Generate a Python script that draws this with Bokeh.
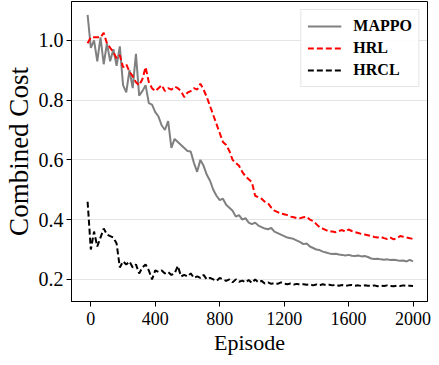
from bokeh.plotting import figure
from bokeh.models import Range1d, FixedTicker, NumeralTickFormatter
from bokeh.embed import file_html
from bokeh.resources import INLINE

episodes = list(range(-20, 2001, 20))

mappo = [1.085, 0.975, 1.00, 0.93, 1.01, 0.92, 0.99, 0.93, 0.97, 0.915,
         0.98, 0.85, 0.826, 0.90, 0.84, 0.955, 0.815, 0.83, 0.85, 0.79,
         0.785, 0.76, 0.745, 0.715, 0.70, 0.73, 0.64, 0.67, 0.66, 0.65,
         0.64, 0.63, 0.628, 0.59, 0.56, 0.60, 0.58, 0.55, 0.53, 0.50,
         0.48, 0.465, 0.47, 0.45, 0.44, 0.43, 0.41, 0.415, 0.40, 0.405,
         0.39, 0.385, 0.39, 0.38, 0.375, 0.37, 0.368, 0.372, 0.36, 0.355,
         0.35, 0.345, 0.34, 0.338, 0.335, 0.33, 0.325, 0.318, 0.32, 0.31,
         0.305, 0.30, 0.298, 0.293, 0.29, 0.287, 0.285, 0.286, 0.283, 0.282,
         0.28, 0.282, 0.279, 0.278, 0.28, 0.277, 0.278, 0.275, 0.27, 0.268,
         0.269, 0.267, 0.266, 0.267, 0.265, 0.266, 0.264, 0.262, 0.263, 0.26,
         0.265, 0.26]

hrl = [0.99, 1.01, 1.01, 1.01, 1.01, 1.025, 0.99, 0.975, 0.96, 0.94,
       0.95, 0.91, 0.92, 0.895, 0.88, 0.86, 0.85, 0.87, 0.91, 0.86,
       0.84, 0.83, 0.84, 0.85, 0.83, 0.84, 0.835, 0.845, 0.84, 0.83,
       0.81, 0.825, 0.83, 0.84, 0.835, 0.855, 0.835, 0.81, 0.78, 0.75,
       0.72, 0.69, 0.66, 0.65, 0.63, 0.60, 0.59, 0.58, 0.56, 0.545,
       0.535, 0.525, 0.48, 0.475, 0.47, 0.46, 0.455, 0.44, 0.43, 0.425,
       0.42, 0.418, 0.415, 0.41, 0.408, 0.405, 0.405, 0.408, 0.41, 0.40,
       0.395, 0.385, 0.375, 0.37, 0.365, 0.36, 0.36, 0.358, 0.362, 0.365,
       0.36, 0.367, 0.362, 0.358, 0.355, 0.352, 0.35, 0.348, 0.345, 0.342,
       0.34, 0.342, 0.338, 0.335, 0.34, 0.334, 0.338, 0.345, 0.343, 0.34,
       0.338, 0.335]

hrcl = [0.46, 0.30, 0.36, 0.31, 0.34, 0.37, 0.35, 0.345, 0.34, 0.32,
        0.24, 0.26, 0.25, 0.26, 0.24, 0.25, 0.22, 0.24, 0.25, 0.23,
        0.20, 0.23, 0.225, 0.23, 0.22, 0.225, 0.215, 0.22, 0.245, 0.21,
        0.215, 0.21, 0.22, 0.205, 0.21, 0.205, 0.215, 0.20, 0.205, 0.20,
        0.195, 0.205, 0.20, 0.195, 0.20, 0.19, 0.20, 0.192, 0.196, 0.19,
        0.198, 0.188, 0.20, 0.19, 0.195, 0.186, 0.19, 0.185, 0.188, 0.185,
        0.19, 0.186, 0.184, 0.186, 0.183, 0.185, 0.182, 0.184, 0.182, 0.183,
        0.18, 0.183, 0.18, 0.184, 0.181, 0.182, 0.18, 0.182, 0.179, 0.181,
        0.178, 0.18, 0.181, 0.179, 0.18, 0.178, 0.18, 0.179, 0.178, 0.18,
        0.177, 0.179, 0.178, 0.18, 0.178, 0.177, 0.179, 0.178, 0.18, 0.178,
        0.179, 0.178]

x_ticks = [0, 400, 800, 1200, 1600, 2000]
y_ticks = [0.2, 0.4, 0.6, 0.8, 1.0]

FONT = "Liberation Serif"

p = figure(frame_width=356, frame_height=300, output_backend="svg",
           toolbar_location=None,
           x_range=Range1d(-120, 2090), y_range=Range1d(0.126, 1.13),
           min_border_left=10, min_border_right=4, min_border_top=1,
           min_border_bottom=10)

p.line(episodes, mappo, line_color="#808080", line_width=2, legend_label="MAPPO")
p.line(episodes, hrl, line_color="#ff0000", line_width=2, line_dash="6 3",
       legend_label="HRL")
p.line(episodes, hrcl, line_color="#000000", line_width=2, line_dash="6 3",
       legend_label="HRCL")

p.outline_line_color = "black"
p.outline_line_width = 1
p.background_fill_color = "white"
p.border_fill_color = "white"

p.xgrid.visible = False
p.ygrid.grid_line_color = "#c8c8c8"
p.ygrid.grid_line_dash = "1 1"
p.ygrid.grid_line_width = 1

p.xaxis.ticker = FixedTicker(ticks=x_ticks)
p.yaxis.ticker = FixedTicker(ticks=y_ticks)
p.yaxis.formatter = NumeralTickFormatter(format="0.0")

p.xaxis.major_label_text_font = FONT
p.yaxis.major_label_text_font = FONT
p.xaxis.major_label_text_font_size = "18px"
p.yaxis.major_label_text_font_size = "20px"
p.xaxis.major_label_text_color = "black"
p.yaxis.major_label_text_color = "black"
p.xaxis.axis_label_text_font = FONT
p.yaxis.axis_label_text_font = FONT
p.xaxis.axis_label_text_font_style = "normal"
p.yaxis.axis_label_text_font_style = "normal"
p.xaxis.axis_label_text_color = "black"
p.yaxis.axis_label_text_color = "black"
p.xaxis.major_tick_out = 5
p.yaxis.major_tick_out = 5
p.xaxis.major_tick_in = 0
p.yaxis.major_tick_in = 0
p.xaxis.minor_tick_line_color = None
p.yaxis.minor_tick_line_color = None
p.xaxis.axis_line_color = "black"
p.yaxis.axis_line_color = "black"

p.xaxis.axis_label = "Episode"
p.yaxis.axis_label = "Combined Cost"
p.xaxis.axis_label_text_font_size = "22px"
p.yaxis.axis_label_text_font_size = "27px"
p.xaxis.major_label_standoff = 5
p.yaxis.major_label_standoff = 3
p.xaxis.axis_label_standoff = 2
p.yaxis.axis_label_standoff = 2

lg = p.legend[0]
lg.location = "top_right"
lg.margin = 8
lg.padding = 6
lg.spacing = 2
lg.label_height = 20
lg.glyph_height = 20
lg.glyph_width = 34
lg.label_standoff = 12
lg.label_text_font = FONT
lg.label_text_font_style = "bold"
lg.label_text_font_size = "16px"
lg.label_text_color = "black"
lg.border_line_color = "#cccccc"
lg.border_line_width = 1
lg.background_fill_alpha = 0.9

open("out.html", "w").write(file_html(p, INLINE))
